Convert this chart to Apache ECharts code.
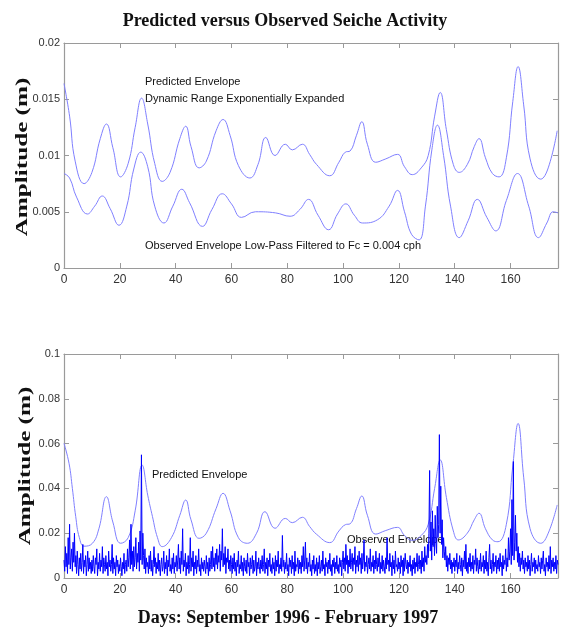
<!DOCTYPE html>
<html><head><meta charset="utf-8">
<script src="https://cdn.jsdelivr.net/npm/echarts@6/dist/echarts.min.js"></script>
<style>html,body{margin:0;padding:0;background:#fff}#c{width:563px;height:630px}</style>
</head><body><div id="c"></div>
<script>
// ---- Top panel: predicted envelope (dynamic range expanded) ----
const predTopDays = [0,2,4,7.2,10,13,15.2,17.5,20.3,23,25.5,27.8,30,32.5,35.2,38,41.5,43.6,45.5,48.4,51,54.5,57,59.5,62.5,66.6,69.5,72.3,75.6,79.3,81.8,85.4,88,90.5,95.2,98.5,100.8,102.5,104.8,106.7,108.7,111.7,115.3,119.5,122,124.8,128,130.5,132.8,134.8,137,139.5,141.6,144.5,147,148.7,151,153.5,155.9,158.5,160.8,162.7,164.7,167,170.8,173.5,176.7];
const predTopVals = [0.0164,0.0135,0.0095,0.0075,0.0085,0.0115,0.0128,0.0107,0.0081,0.0093,0.0125,0.0151,0.0128,0.0093,0.0077,0.0085,0.0115,0.0126,0.0108,0.0089,0.0095,0.0122,0.0132,0.0118,0.0091,0.0080,0.0092,0.0116,0.0100,0.0110,0.0105,0.0110,0.0101,0.0092,0.0082,0.0094,0.0103,0.0104,0.0118,0.0130,0.0110,0.0094,0.0097,0.0101,0.0090,0.0083,0.0089,0.0100,0.0135,0.0156,0.0123,0.0092,0.0085,0.0092,0.0108,0.0115,0.0098,0.0084,0.0081,0.0098,0.0148,0.0179,0.0145,0.0097,0.0079,0.0089,0.0122];
// ---- Top panel: observed envelope low-pass filtered ----
const obsTopDays = [0,2,4.5,8.4,11,13.7,16.5,19.7,22.5,25,27.5,30,32.5,35.8,39,42.2,45,49.6,53,56.7,60,63.6,68.6,75.8,81,84.5,87.6,91,94.8,98,101,104,107,112.4,116.5,119.5,122,124.5,127.2,129.5,131.8,133.8,136,138.5,141.6,144.8,148.1,151.5,154.7,158.5,162.5,166.5,170,173,175.3,177];
const obsTopVals = [0.0084,0.0080,0.0063,0.0048,0.0055,0.0064,0.0053,0.0038,0.0055,0.0088,0.0103,0.0090,0.0055,0.0040,0.0055,0.0070,0.0058,0.0037,0.0052,0.0066,0.0057,0.0045,0.0050,0.0049,0.0046,0.0052,0.0061,0.0047,0.0034,0.0048,0.0057,0.0047,0.0040,0.0043,0.0055,0.0069,0.0050,0.0030,0.0025,0.0055,0.0105,0.0127,0.0100,0.0055,0.0027,0.0042,0.0061,0.0045,0.0033,0.0060,0.0084,0.0055,0.0027,0.0040,0.0050,0.0049];
// ---- Bottom panel: predicted envelope ----
const predBotDays = [0,1.8,3,4.2,5.5,7.2,10.2,12.5,15.2,17.5,20.3,23,25.5,28,30,31.7,33.5,35.2,38.5,41.5,43.6,45.5,48.4,51,54.5,57,59.5,62.5,65.7,69,72,75.6,79.3,81.8,85.4,88,90.5,95.2,98.5,100.8,102.5,104.8,106.7,108.7,111.7,115.3,119.5,122,124.8,128,130.5,132.8,134.8,137,139.5,141.3,144.5,147,148.7,151,153.5,155.5,158.5,160.8,162.7,164.7,167,170.8,173.5,176.7];
const predBotVals = [0.0601,0.0512,0.0400,0.0274,0.0180,0.0142,0.0155,0.0220,0.0363,0.0250,0.0155,0.0180,0.0300,0.0504,0.0370,0.0274,0.0180,0.0140,0.0180,0.0280,0.0348,0.0260,0.0177,0.0200,0.0310,0.0378,0.0300,0.0180,0.0155,0.0200,0.0296,0.0222,0.0266,0.0247,0.0271,0.0230,0.0195,0.0158,0.0210,0.0238,0.0242,0.0310,0.0366,0.0280,0.0196,0.0212,0.0226,0.0190,0.0168,0.0190,0.0240,0.0400,0.0527,0.0360,0.0210,0.0170,0.0200,0.0260,0.0289,0.0220,0.0170,0.0162,0.0240,0.0500,0.0690,0.0450,0.0220,0.0155,0.0200,0.0326];
// ---- Bottom panel: observed amplitude, one sample every 0.25 day, in mm ----
const obsStepDays = 0.25;
const obsMm = [
8,3,14,5,11,2,18,6,24,4,9,13,3,16,7,20,5,10,2,12,
6,1,9,4,11,3,7,15,2,8,5,10,1,6,12,3,9,4,7,2,
8,3,10,5,2,9,6,13,1,7,4,11,3,8,5,14,2,9,6,3,
10,4,7,1,12,5,8,3,6,15,2,9,4,7,1,10,5,8,2,6,
3,9,5,1,7,4,11,2,6,8,3,13,5,9,17,4,24,6,12,3,
14,5,9,18,4,11,7,16,3,21,8,55,6,20,10,4,13,2,9,5,
7,2,10,4,12,3,8,1,6,14,5,9,2,7,4,11,3,8,1,6,
9,3,5,12,2,7,4,10,1,8,5,13,3,6,2,9,4,11,2,7,
5,10,3,8,15,4,9,2,12,6,22,3,8,5,11,1,7,4,10,2,
6,18,3,9,5,12,1,7,4,10,2,8,5,13,3,6,1,9,4,7,
3,8,5,2,10,4,7,1,9,3,6,12,4,14,5,9,3,11,6,13,
4,10,7,15,3,12,8,22,5,11,6,14,2,9,7,13,4,8,3,10,
6,2,9,4,11,3,7,1,8,5,12,2,6,4,10,3,7,1,9,5,
3,8,2,11,5,7,1,9,4,6,10,2,8,3,5,12,1,7,4,9,
5,2,8,4,10,3,6,13,2,7,4,9,1,8,5,11,3,6,2,9,
4,7,1,10,3,8,5,12,2,6,4,9,3,19,5,8,2,7,4,11,
3,6,1,9,5,8,2,10,4,7,1,12,3,6,5,9,2,8,4,7,
2,10,5,14,3,8,16,4,9,2,7,5,11,3,6,1,8,4,10,2,
6,3,9,1,7,4,10,2,5,8,3,12,4,6,1,9,5,7,2,8,
4,11,3,6,1,8,5,9,2,7,4,10,3,6,2,9,5,8,1,7,
12,4,9,3,15,6,10,2,8,5,13,4,7,11,3,9,6,14,2,8,
5,10,3,12,6,9,2,11,4,8,17,3,7,5,10,2,6,9,4,13,
3,7,5,10,2,8,4,12,6,3,9,5,11,2,7,4,10,3,8,5,
2,9,4,18,6,8,3,11,5,7,1,10,4,8,2,12,5,6,3,9,
4,7,2,10,5,8,1,9,3,11,6,4,8,2,7,5,10,3,6,1,
8,4,9,2,7,5,11,3,6,10,4,8,2,12,5,9,3,14,7,10,
6,15,9,20,48,12,25,8,30,14,22,10,28,16,11,32,18,24,64,20,
41,15,26,9,18,12,8,14,5,10,3,9,6,11,4,8,2,7,5,9,
3,8,5,11,2,7,4,10,6,3,9,1,8,5,12,4,15,3,7,2,
9,5,11,3,7,4,10,2,8,6,13,3,9,5,2,8,4,11,3,7,
5,10,2,8,4,12,3,7,1,9,15,4,8,2,6,11,3,7,5,10,
2,8,4,9,3,11,5,7,1,10,4,8,6,13,3,9,5,18,8,12,
22,6,35,10,52,8,16,28,12,20,7,14,5,11,3,9,6,12,4,8,
2,9,5,7,3,10,4,8,1,6,11,3,7,5,9,2,8,4,6,3,
10,5,7,2,9,4,8,12,3,6,1,9,5,7,3,10,4,14,2,8,
5,9,3,7,4,10,2,8,6];
// ---- Axes ----
const dayTicks = [0,20,40,60,80,100,120,140,160];
const dayMax = 177;
const topYTicks = [0,0.005,0.01,0.015,0.02];
const botYTicks = [0,0.02,0.04,0.06,0.08,0.1];

const envColor = '#8080ff';
const obsColor = '#0000ff';
const axisGray = '#9a9a9a';
const tickFont = '"Liberation Sans",Arial,sans-serif';
const fmt = v => String(+Number(v).toFixed(4));

function pairs(xs, ys){ return xs.map((x,i)=>[x, ys[i]]); }

const chart = echarts.init(document.getElementById('c'), null, {renderer:'canvas'});

function xAxes(gi){
  return [
    {gridIndex:gi, type:'value', position:'bottom', min:dayTicks[0], max:dayMax,
     interval:dayTicks[1]-dayTicks[0],
     axisLine:{show:true, onZero:false, lineStyle:{color:axisGray, width:1.2}},
     axisTick:{show:true, inside:true, length:5, lineStyle:{color:axisGray}},
     axisLabel:{show:true, showMaxLabel:false, color:'#333', fontFamily:tickFont, fontSize:12, margin:6},
     splitLine:{show:false}},
    {gridIndex:gi, type:'value', position:'top', min:dayTicks[0], max:dayMax,
     interval:dayTicks[1]-dayTicks[0],
     axisLine:{show:true, onZero:false, lineStyle:{color:axisGray, width:1.2}},
     axisTick:{show:true, inside:true, length:5, lineStyle:{color:axisGray}},
     axisLabel:{show:false}, splitLine:{show:false}}
  ];
}
function yAxes(gi, ticks){
  const base = {gridIndex:gi, type:'value', min:ticks[0], max:ticks[ticks.length-1],
     interval:ticks[1]-ticks[0], splitLine:{show:false}};
  return [
    Object.assign({}, base, {position:'left',
      axisLine:{show:true, onZero:false, lineStyle:{color:axisGray, width:1.2}},
      axisTick:{show:true, inside:true, length:5, lineStyle:{color:axisGray}},
      axisLabel:{show:true, color:'#333', fontFamily:tickFont, fontSize:11, margin:4, formatter:fmt}}),
    Object.assign({}, base, {position:'right',
      axisLine:{show:true, onZero:false, lineStyle:{color:axisGray, width:1.2}},
      axisTick:{show:true, inside:true, length:5, lineStyle:{color:axisGray}},
      axisLabel:{show:false}})
  ];
}

const obsData = obsMm.map((v,i)=>[i*obsStepDays, v/1000]);

function txt(x, y, text, font, extra){
  return Object.assign({type:'text', x:x, y:y, silent:true,
    style:{text:text, x:0, y:0, font:font, fill:'#111',
      textAlign:'left', textVerticalAlign:'middle', align:'left', verticalAlign:'middle'}}, extra||{});
}
const serifBold = 'bold 18px "Liberation Serif","Times New Roman",serif';
const ylabFont = 'bold 17px "Liberation Serif","Times New Roman",serif';
const annFont = '11px "Liberation Sans",Arial,sans-serif';

function centered(t){ t.style.textAlign='center'; t.style.align='center'; return t; }

const envLine = {type:'line', smooth:0.45, showSymbol:false, symbol:'none',
  lineStyle:{color:envColor, width:1}};

const option = {
  animation:false,
  backgroundColor:'#fff',
  grid:[
    {left:64, top:43, width:494, height:225, containLabel:false},
    {left:64, top:354, width:494, height:224, containLabel:false}
  ],
  xAxis: xAxes(0).concat(xAxes(1)),
  yAxis: yAxes(0, topYTicks).concat(yAxes(1, botYTicks)),
  series:[
    Object.assign({}, envLine, {xAxisIndex:0, yAxisIndex:0, data:pairs(predTopDays, predTopVals)}),
    Object.assign({}, envLine, {xAxisIndex:0, yAxisIndex:0, data:pairs(obsTopDays, obsTopVals)}),
    Object.assign({}, envLine, {xAxisIndex:2, yAxisIndex:2, data:pairs(predBotDays, predBotVals)}),
    {type:'line', xAxisIndex:2, yAxisIndex:2, data:obsData, sampling:null,
     showSymbol:false, symbol:'none', z:3,
     lineStyle:{color:obsColor, width:1}}
  ],
  graphic:[
    centered(txt(285, 21, 'Predicted versus Observed Seiche Activity', serifBold)),
    centered(txt(288, 618, 'Days: September 1996 - February 1997', serifBold)),
    centered(txt(23, 157, 'Amplitude (m)', ylabFont, {rotation:Math.PI/2, scaleX:1.48})),
    centered(txt(26, 466, 'Amplitude (m)', ylabFont, {rotation:Math.PI/2, scaleX:1.48})),
    txt(145, 82, 'Predicted Envelope', annFont),
    txt(145, 99, 'Dynamic Range Exponentially Expanded', annFont),
    txt(145, 246, 'Observed Envelope Low-Pass Filtered to Fc = 0.004 cph', annFont),
    txt(152, 475, 'Predicted Envelope', annFont),
    txt(347, 540, 'Observed Envelope', annFont)
  ]
};
chart.setOption(option);
</script>
</body></html>
